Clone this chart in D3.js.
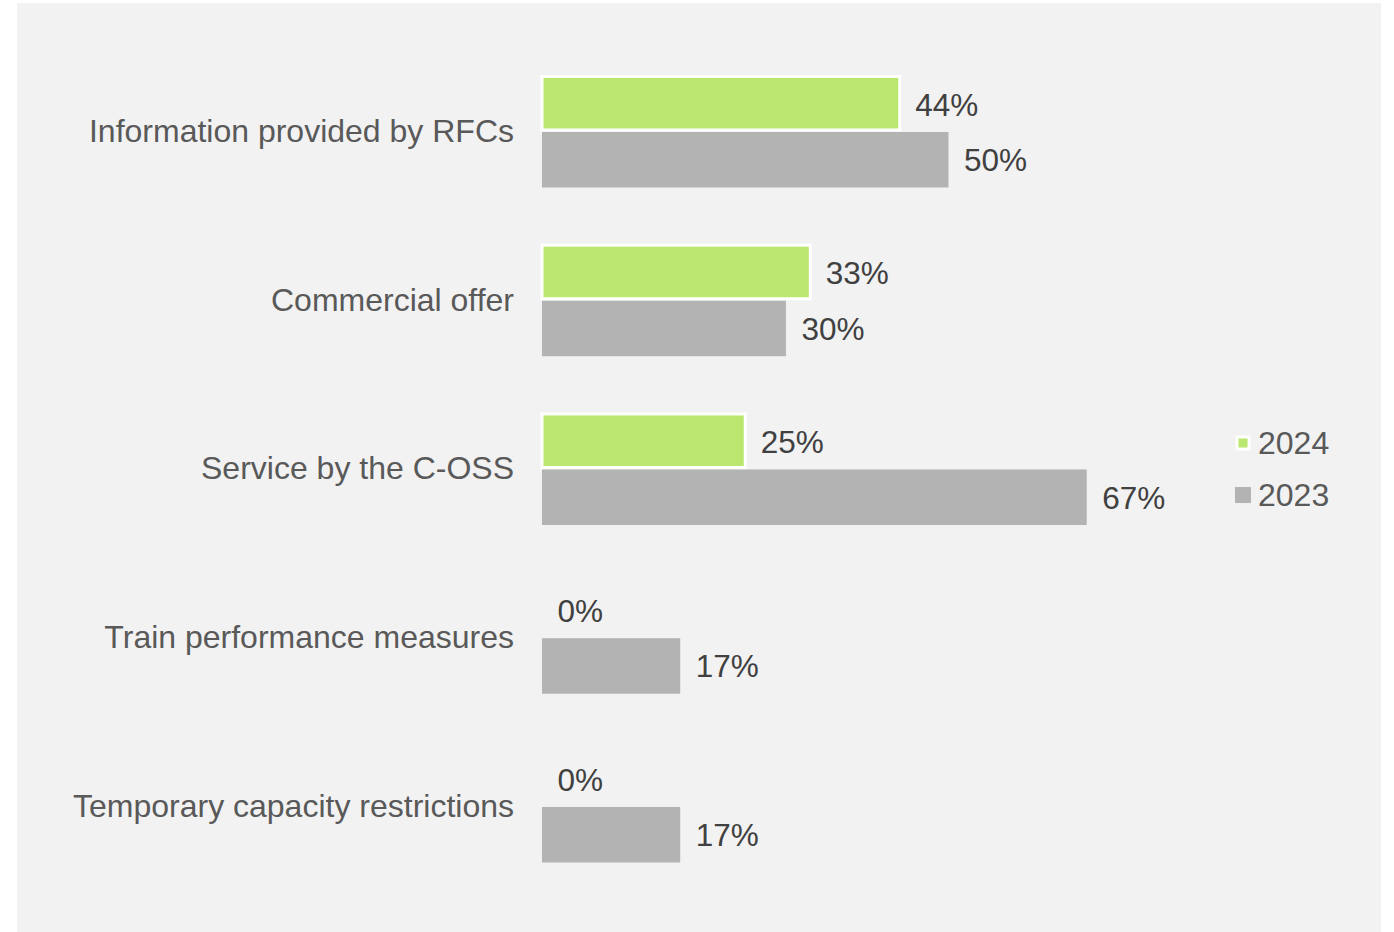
<!DOCTYPE html>
<html>
<head>
<meta charset="utf-8">
<script src="https://cdn.jsdelivr.net/npm/d3@7"></script>
<style>
  html, body { margin: 0; padding: 0; background: #ffffff; }
  svg { display: block; font-family: "Liberation Sans", Arial, sans-serif; }
</style>
</head>
<body>
<svg id="chart" width="1394" height="932"></svg>
<script>
// Survey topics and the share of answers per year (percent)
const categories = [
  "Information provided by RFCs",
  "Commercial offer",
  "Service by the C-OSS",
  "Train performance measures",
  "Temporary capacity restrictions"
];
const years = ["2024", "2023"];
const values2024 = [44, 33, 25, 0, 0];
const values2023 = [50, 30, 67, 17, 17];

const colors = { "2024": "#bae86e", "2023": "#b3b3b3" };

const svg = d3.select("#chart");

// panel background
svg.append("rect")
  .attr("x", 17).attr("y", 3)
  .attr("width", 1364).attr("height", 929)
  .attr("fill", "#f2f2f2");

const x = d3.scaleLinear().domain([0, 100]).range([542, 542 + 813]);

const y = d3.scaleBand()
  .domain(categories)
  .range([47.1, 890.85])
  .paddingInner(0.342)
  .paddingOuter(0.171);

const ySub = d3.scaleBand()
  .domain(years)
  .range([0, y.bandwidth()])
  .padding(0);

const rows = categories.map((c, i) => ({
  category: c,
  series: [
    { year: "2024", value: values2024[i] },
    { year: "2023", value: values2023[i] }
  ]
}));

const g = svg.selectAll("g.row")
  .data(rows)
  .join("g")
  .attr("class", "row")
  .attr("transform", d => `translate(0,${y(d.category)})`);

// category labels
g.append("text")
  .attr("x", 514)
  .attr("y", y.bandwidth() / 2 - 0.5)
  .attr("text-anchor", "end")
  .attr("dominant-baseline", "central")
  .attr("font-size", "32px")
  .attr("fill", "#595959")
  .text(d => d.category);

// bars
g.selectAll("rect.bar")
  .data(d => d.series.filter(s => s.value > 0))
  .join("rect")
  .attr("class", "bar")
  .attr("x", x(0))
  .attr("y", s => ySub(s.year) + 0.5)
  .attr("width", s => x(s.value) - x(0))
  .attr("height", s => ySub.bandwidth() - (s.year === "2024" ? 2 : 0))
  .attr("fill", s => colors[s.year])
  .attr("stroke", s => s.year === "2024" ? "#ffffff" : "none")
  .attr("stroke-width", 3);

// value labels
g.selectAll("text.val")
  .data(d => d.series)
  .join("text")
  .attr("class", "val")
  .attr("x", s => x(s.value) + 15.5)
  .attr("y", s => ySub(s.year) + ySub.bandwidth() / 2 + 1)
  .attr("dominant-baseline", "central")
  .attr("font-size", "31.5px")
  .attr("fill", "#404040")
  .text(s => s.value + "%");

// legend
const legend = svg.append("g");
const legendItems = [
  { year: "2024", y: 443 },
  { year: "2023", y: 495 }
];
legendItems.forEach(item => {
  if (item.year === "2024") {
    legend.append("rect")
      .attr("x", 1237).attr("y", item.y - 6)
      .attr("width", 12).attr("height", 12)
      .attr("fill", colors[item.year])
      .attr("stroke", "#ffffff").attr("stroke-width", 3);
  } else {
    legend.append("rect")
      .attr("x", 1235).attr("y", item.y - 8)
      .attr("width", 16).attr("height", 16)
      .attr("fill", colors[item.year]);
  }
  legend.append("text")
    .attr("x", 1258)
    .attr("y", item.y)
    .attr("dominant-baseline", "central")
    .attr("font-size", "32px")
    .attr("fill", "#595959")
    .text(item.year);
});
</script>
</body>
</html>
